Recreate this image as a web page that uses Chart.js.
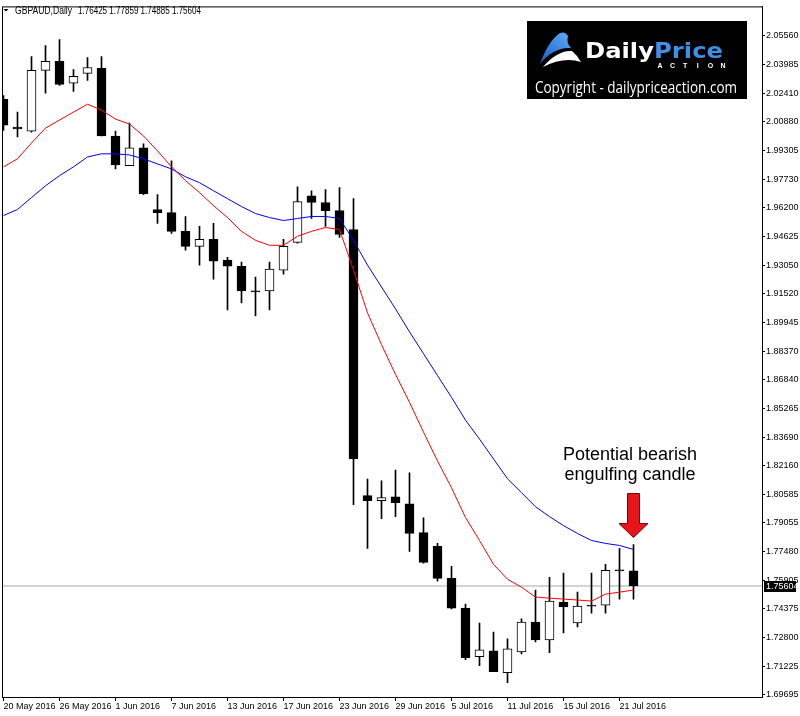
<!DOCTYPE html>
<html>
<head>
<meta charset="utf-8">
<script src="https://cdn.jsdelivr.net/npm/chart.js@4.4.1/dist/chart.umd.min.js"></script>
<style>
  html, body { margin: 0; padding: 0; background: #fff; }
</style>
</head>
<body>
<canvas id="c" width="800" height="716"></canvas>
<script>
// GBPAUD daily candles, 20 May - 22 Jul 2016
const dates = [
  '20 May 2016', '23 May 2016', '24 May 2016', '25 May 2016', '26 May 2016', '27 May 2016',
  '30 May 2016', '31 May 2016', '1 Jun 2016', '2 Jun 2016', '3 Jun 2016', '6 Jun 2016',
  '7 Jun 2016', '8 Jun 2016', '9 Jun 2016', '10 Jun 2016', '13 Jun 2016', '14 Jun 2016',
  '15 Jun 2016', '16 Jun 2016', '17 Jun 2016', '20 Jun 2016', '21 Jun 2016', '22 Jun 2016',
  '23 Jun 2016', '24 Jun 2016', '27 Jun 2016', '28 Jun 2016', '29 Jun 2016', '30 Jun 2016',
  '1 Jul 2016', '4 Jul 2016', '5 Jul 2016', '6 Jul 2016', '7 Jul 2016', '8 Jul 2016',
  '11 Jul 2016', '12 Jul 2016', '13 Jul 2016', '14 Jul 2016', '15 Jul 2016', '18 Jul 2016',
  '19 Jul 2016', '20 Jul 2016', '21 Jul 2016', '22 Jul 2016'
];

const open = [
  2.0210, 2.0059, 2.0037, 2.0367, 2.0416, 2.0297, 2.0351, 2.0378, 2.0010, 1.9848,
  1.9945, 1.9610, 1.9593, 1.9491, 1.9409, 1.9447, 1.9334, 1.9301, 1.9167, 1.9166,
  1.9280, 1.9431, 1.9685, 1.9648, 1.9604, 1.9501, 1.8052, 1.8025, 1.8046, 1.8008,
  1.7851, 1.7776, 1.7602, 1.7440, 1.7175, 1.7208, 1.7089, 1.7202, 1.7364, 1.7267,
  1.7473, 1.7359, 1.7457, 1.7456, 1.7648, 1.76425
];
const high = [
  2.0230, 2.0140, 2.0443, 2.0502, 2.0535, 2.0372, 2.0437, 2.0443, 2.0037, 2.0080,
  1.9967, 1.9691, 1.9875, 1.9572, 1.9518, 1.9534, 1.9350, 1.9323, 1.9242, 1.9323,
  1.9447, 1.9734, 1.9712, 1.9718, 1.9729, 1.9669, 1.8143, 1.8133, 1.8192, 1.8176,
  1.7932, 1.7792, 1.7667, 1.7462, 1.7359, 1.7310, 1.7272, 1.7381, 1.7538, 1.7608,
  1.7630, 1.7527, 1.7630, 1.7678, 1.7765, 1.77859
];
const low = [
  2.0040, 2.0005, 2.0031, 2.0243, 2.0286, 2.0253, 2.0313, 2.0010, 1.9831, 1.9848,
  1.9691, 1.9534, 1.9480, 1.9388, 1.9307, 1.9231, 1.9063, 1.9101, 1.9031, 1.9063,
  1.9258, 1.9426, 1.9561, 1.9518, 1.9458, 1.8003, 1.7765, 1.7927, 1.7938, 1.7749,
  1.7684, 1.7586, 1.7435, 1.7159, 1.7126, 1.7094, 1.7034, 1.7191, 1.7256, 1.7197,
  1.7305, 1.7337, 1.7413, 1.7413, 1.7489, 1.74885
];
const close = [
  2.0069, 2.0048, 2.0367, 2.0416, 2.0291, 2.0335, 2.0383, 2.0010, 1.9853, 1.9945,
  1.9696, 1.9593, 1.9491, 1.9409, 1.9447, 1.9328, 1.9301, 1.9166, 1.9161, 1.9285,
  1.9409, 1.9653, 1.9648, 1.9604, 1.9474, 1.8252, 1.8025, 1.8041, 1.8014, 1.7846,
  1.7689, 1.7602, 1.7440, 1.7170, 1.7213, 1.7094, 1.7218, 1.7364, 1.7267, 1.7478,
  1.7446, 1.7451, 1.7451, 1.7646, 1.7642, 1.75604
];

// moving averages (red = fast, blue = slow)
const maFast = [
  1.9842, 1.9886, 1.9972, 2.0053, 2.0097, 2.0140, 2.0183, 2.0151, 2.0102, 2.0075,
  2.0010, 1.9929, 1.9842, 1.9767, 1.9702, 1.9631, 1.9566, 1.9491, 1.9442, 1.9415,
  1.9415, 1.9464, 1.9491, 1.9512, 1.9501, 1.9280, 1.9047, 1.8874, 1.8712, 1.8560,
  1.8398, 1.8241, 1.8095, 1.7933, 1.7808, 1.7678, 1.7597, 1.7554, 1.7500, 1.7494,
  1.7489, 1.7484, 1.7478, 1.7516, 1.7527, 1.7538
];
const maSlow = [
  1.9577, 1.9610, 1.9675, 1.9739, 1.9794, 1.9842, 1.9896, 1.9913, 1.9913, 1.9907,
  1.9886, 1.9858, 1.9831, 1.9788, 1.9756, 1.9712, 1.9669, 1.9626, 1.9588, 1.9566,
  1.9550, 1.9561, 1.9572, 1.9572, 1.9561, 1.9442, 1.9307, 1.9188, 1.9069, 1.8944,
  1.8825, 1.8706, 1.8587, 1.8463, 1.8360, 1.8252, 1.8144, 1.8068, 1.7992, 1.7938,
  1.7889, 1.7846, 1.7808, 1.7792, 1.7781, 1.7759
];

// axis labels
const xTickLabels = [
  '20 May 2016', '26 May 2016', '1 Jun 2016', '7 Jun 2016', '13 Jun 2016', '17 Jun 2016',
  '23 Jun 2016', '29 Jun 2016', '5 Jul 2016', '11 Jul 2016', '15 Jul 2016', '21 Jul 2016'
];
const yTicks = [
  1.69695, 1.71225, 1.72800, 1.74375, 1.75905, 1.77480, 1.79055, 1.80585,
  1.82160, 1.83690, 1.85265, 1.86840, 1.88370, 1.89945, 1.91520, 1.93050,
  1.94625, 1.96200, 1.97730, 1.99305, 2.00880, 2.02410, 2.03985, 2.05560
];

// view window (14 px per bar, 1848.6 px per unit of price)
const xMin = -0.10714, xMax = 54.17857;
const yMax = 2.071558, yMin = 1.695598;

const FONT = 'Liberation Sans';
Chart.defaults.font.family = FONT;

function fitText(ctx, text, x, y, w) {
  const m = ctx.measureText(text).width;
  ctx.save();
  ctx.translate(x, y);
  ctx.scale(w / m, 1);
  ctx.fillText(text, 0, 0);
  ctx.restore();
}

const decor = {
  id: 'decor',
  beforeDraw(chart) {
    const ctx = chart.ctx;
    ctx.save();
    ctx.fillStyle = '#fff';
    ctx.fillRect(0, 0, chart.width, chart.height);
    ctx.restore();
  },
  afterDraw(chart) {
    const { ctx, chartArea: a } = chart;
    const xs = chart.scales.x, ys = chart.scales.y;
    ctx.save();

    // frame
    ctx.strokeStyle = '#000';
    ctx.lineWidth = 1;
    ctx.strokeRect(a.left + 0.5, a.top + 0.5, a.right - a.left, a.bottom - a.top);

    // symbol header
    ctx.fillStyle = '#000';
    ctx.beginPath();
    ctx.moveTo(3.5, 9); ctx.lineTo(8.5, 9); ctx.lineTo(6, 11.5); ctx.closePath();
    ctx.fill();
    ctx.font = '11px "' + FONT + '"';
    ctx.textBaseline = 'alphabetic';
    fitText(ctx, 'GBPAUD,Daily', 15, 14, 57);
    const n = close.length - 1;
    fitText(ctx, [open[n], high[n], low[n], close[n]].map(v => v.toFixed(5)).join(' '), 78, 14, 123);

    // logo box
    ctx.fillStyle = '#000';
    ctx.fillRect(527, 21, 220, 78);
    const g = ctx.createLinearGradient(540, 64, 568, 33);
    g.addColorStop(0, '#1a5ccc');
    g.addColorStop(1, '#5aa9f4');
    ctx.fillStyle = g;
    ctx.beginPath();
    ctx.moveTo(540, 64);
    ctx.bezierCurveTo(545, 50, 552, 38, 560, 33);
    ctx.quadraticCurveTo(565, 31, 568, 36);
    ctx.quadraticCurveTo(566, 43, 571, 48);
    ctx.bezierCurveTo(560, 47, 548, 53, 540, 64);
    ctx.fill();
    ctx.fillStyle = '#fff';
    ctx.beginPath();
    ctx.moveTo(543, 67);
    ctx.bezierCurveTo(552, 56, 563, 50, 572, 51);
    ctx.quadraticCurveTo(577, 55, 581, 62);
    ctx.bezierCurveTo(570, 58, 556, 60, 543, 67);
    ctx.fill();

    ctx.font = 'bold 22px "DejaVu Sans"';
    const wD = ctx.measureText('Daily').width, wP = ctx.measureText('Price').width;
    const s = 138 / (wD + wP);
    ctx.fillStyle = '#fff';
    fitText(ctx, 'Daily', 585, 58, wD * s);
    ctx.fillStyle = '#3d8fe8';
    fitText(ctx, 'Price', 585 + wD * s, 58, wP * s);
    ctx.fillStyle = '#fff';
    ctx.font = 'bold 7px "' + FONT + '"';
    ctx.textAlign = 'center';
    'ACTION'.split('').forEach((ch, i) => ctx.fillText(ch, 660 + i * 12.6, 67.5));
    ctx.textAlign = 'left';
    ctx.font = '16px "Open Sans"';
    fitText(ctx, 'Copyright - dailypriceaction.com', 535, 92.5, 202);

    // annotation
    ctx.fillStyle = '#000';
    ctx.font = '18px "' + FONT + '"';
    ctx.textAlign = 'center';
    const cx = xs.getPixelForValue(n);
    ctx.fillText('Potential bearish', cx - 3.5, 460);
    ctx.fillText('engulfing candle', cx - 3.5, 479.5);

    const tip = ys.getPixelForValue(high[n]) - 7;
    ctx.beginPath();
    ctx.moveTo(cx - 6, tip - 44); ctx.lineTo(cx + 6, tip - 44); ctx.lineTo(cx + 6, tip - 14);
    ctx.lineTo(cx + 14.5, tip - 14); ctx.lineTo(cx, tip); ctx.lineTo(cx - 14.5, tip - 14);
    ctx.lineTo(cx - 6, tip - 14); ctx.closePath();
    ctx.fillStyle = '#e8141c';
    ctx.fill();
    ctx.strokeStyle = '#7a0000';
    ctx.stroke();

    // last price tag
    const py = ys.getPixelForValue(close[n]);
    ctx.fillStyle = '#000';
    ctx.fillRect(764, Math.round(py) - 5, 32, 11);
    ctx.fillStyle = '#fff';
    ctx.font = '9px "' + FONT + '"';
    ctx.textAlign = 'left';
    ctx.textBaseline = 'middle';
    ctx.fillText(close[n].toFixed(5), 766, Math.round(py) + 0.5);

    ctx.restore();
  }
};

const idx = dates.map((d, i) => i);
const last = close[close.length - 1];

new Chart(document.getElementById('c'), {
  type: 'bar',
  data: {
    datasets: [
      {
        type: 'line',
        data: idx.map(i => ({ x: i, y: maFast[i] })),
        borderColor: '#ff0000',
        borderWidth: 1,
        pointRadius: 0,
        tension: 0,
        order: 0,
      },
      {
        type: 'line',
        data: idx.map(i => ({ x: i, y: maSlow[i] })),
        borderColor: '#0000ff',
        borderWidth: 1,
        pointRadius: 0,
        tension: 0,
        order: 1,
      },
      {
        // candle bodies
        data: idx.map(i => ({ x: i, y: [open[i], close[i]] })),
        backgroundColor: ctx => close[ctx.dataIndex] >= open[ctx.dataIndex] ? '#ffffff' : '#000000',
        borderColor: '#000',
        borderWidth: 1,
        borderSkipped: false,
        barThickness: 9,
        grouped: false,
        clip: 0,
        order: 2,
      },
      {
        // wicks
        data: idx.map(i => ({ x: i, y: [low[i], high[i]] })),
        backgroundColor: '#000',
        borderWidth: 0,
        barThickness: 1,
        grouped: false,
        clip: 0,
        order: 3,
      },
      {
        // last price line
        type: 'line',
        data: [{ x: xMin, y: last }, { x: xMax, y: last }],
        borderColor: '#c4c4c4',
        borderWidth: 1.5,
        pointRadius: 0,
        order: 4,
      },
    ],
  },
  options: {
    responsive: false,
    devicePixelRatio: 1,
    animation: false,
    events: [],
    layout: { padding: { left: 2, top: 2, right: 0, bottom: 0 } },
    plugins: { legend: { display: false }, tooltip: { enabled: false } },
    scales: {
      x: {
        type: 'linear',
        position: 'bottom',
        min: xMin,
        max: xMax,
        offset: false,
        afterBuildTicks: sc => { sc.ticks = xTickLabels.map(l => ({ value: dates.indexOf(l) })); },
        afterFit: sc => { sc.height = 19; },
        grid: { drawOnChartArea: false, drawTicks: true, tickLength: 4, color: '#000', offset: false },
        border: { display: true, color: '#000', width: 1 },
        ticks: {
          autoSkip: false, maxRotation: 0, minRotation: 0, align: 'start', padding: 0,
          color: '#000', font: { size: 9 },
          callback: v => dates[v],
        },
      },
      y: {
        type: 'linear',
        position: 'right',
        min: yMin,
        max: yMax,
        afterBuildTicks: sc => { sc.ticks = yTicks.map(v => ({ value: v })); },
        afterFit: sc => { sc.width = 38; },
        grid: { drawOnChartArea: false, drawTicks: true, tickLength: 3, color: '#000' },
        border: { display: true, color: '#000', width: 1 },
        ticks: {
          autoSkip: false, padding: 1, color: '#000', font: { size: 9 },
          callback: v => v.toFixed(5),
        },
      },
    },
  },
  plugins: [decor],
});
</script>
</body>
</html>
